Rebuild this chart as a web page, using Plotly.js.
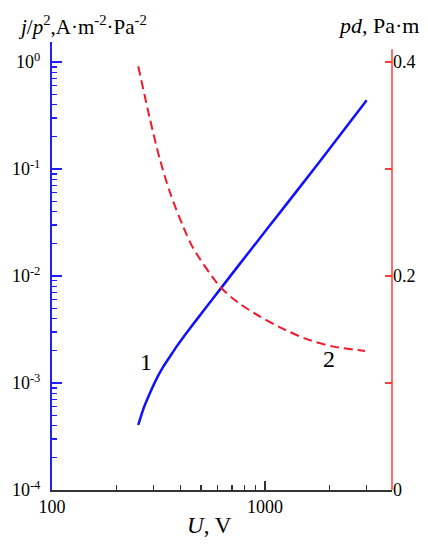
<!DOCTYPE html>
<html>
<head>
<meta charset="utf-8">
<script src="https://cdn.plot.ly/plotly-3.0.1.min.js"></script>
<style>html,body{margin:0;padding:0;background:#fff;}#chart{width:428px;height:550px;}</style>
</head>
<body>
<div id="chart"></div>
<script>
// Curve 1: current density j/p^2 vs voltage U (left log axis)
var u1 = [254, 270, 290, 310, 333, 360, 385, 420, 460, 513, 615, 750, 1000, 1500, 2000, 3000];
var j1 = [4.05e-4, 5.9e-4, 8.3e-4, 1.1e-3, 1.42e-3, 1.8e-3, 2.2e-3, 2.8e-3, 3.55e-3, 4.7e-3, 7.5e-3, 1.25e-2, 2.6e-2, 7.3e-2, 0.153, 0.44];
// Curve 2: pd vs voltage U (right linear axis)
var u2 = [254, 288, 321, 358, 413, 460, 615, 750, 948, 1175, 1570, 2094, 2944];
var pd2 = [0.396, 0.347, 0.309, 0.278, 0.246, 0.226, 0.190, 0.175, 0.162, 0.152, 0.141, 0.134, 0.130];

var xMajor = [100, 1000];
var xMajorText = ['100', '1000'];
var xMinor = [200, 300, 400, 500, 600, 700, 800, 900, 2000, 3000];
var yMajor = [1e-4, 1e-3, 1e-2, 1e-1, 1];
var yMajorText = ['10<sup>-4</sup>', '10<sup>-3</sup>', '10<sup>-2</sup>', '10<sup>-1</sup>', '10<sup>0</sup>'];
var yMinor = [];
[1e-4, 1e-3, 1e-2, 1e-1].forEach(function (d) { for (var k = 2; k <= 9; k++) yMinor.push(+(d * k).toPrecision(3)); });
var y2Major = [0, 0.2, 0.4];
var y2Text = ['0', '0.2', '0.4'];
var y2Minor = [0.1, 0.3];

var serif = 'Liberation Serif';

var traces = [
  {x: u1, y: j1, type: 'scatter', mode: 'lines', line: {color: '#1010ff', width: 2.5, shape: 'spline', smoothing: 0.8}, yaxis: 'y', hoverinfo: 'none'},
  {x: u2, y: pd2, type: 'scatter', mode: 'lines', line: {color: '#f0182a', width: 2, dash: '9px,5px', shape: 'spline', smoothing: 0.8}, yaxis: 'y2', hoverinfo: 'none'}
];

var layout = {
  width: 428, height: 550,
  margin: {l: 52, r: 36, t: 42, b: 60},
  paper_bgcolor: '#fff', plot_bgcolor: '#fff',
  showlegend: false,
  font: {family: serif, size: 18, color: '#000'},
  xaxis: {
    type: 'log', range: [2, 3.596],
    showgrid: false, zeroline: false,
    showline: true, linecolor: '#333', linewidth: 1.5,
    tickmode: 'array', tickvals: xMajor, ticktext: xMajorText,
    ticks: 'inside', ticklen: 9, tickcolor: '#333', tickwidth: 1.5,
    minor: {tickmode: 'array', tickvals: xMinor, ticks: 'inside', ticklen: 5, tickcolor: '#333', tickwidth: 1.2},
    tickfont: {family: serif, size: 18, color: '#000'},
    ticklabelstandoff: 0
  },
  yaxis: {
    type: 'log', range: [-4, 0.187],
    showgrid: false, zeroline: false,
    showline: true, linecolor: '#2020ff', linewidth: 2,
    tickmode: 'array', tickvals: yMajor, ticktext: yMajorText,
    ticks: 'inside', ticklen: 10, tickcolor: '#2020ff', tickwidth: 1.5,
    minor: {tickmode: 'array', tickvals: yMinor, ticks: 'inside', ticklen: 5, tickcolor: '#2020ff', tickwidth: 1.2},
    tickfont: {family: serif, size: 18, color: '#000'},
    ticklabelstandoff: 6
  },
  yaxis2: {
    overlaying: 'y', side: 'right', range: [0, 0.4187],
    showgrid: false, zeroline: false, showline: false,
    tickmode: 'array', tickvals: y2Major, ticktext: y2Text,
    ticks: 'inside', ticklen: 7, tickcolor: '#ff3b3b', tickwidth: 1.5,
    minor: {tickmode: 'array', tickvals: y2Minor, ticks: 'inside', ticklen: 7, tickcolor: '#ff3b3b', tickwidth: 1.5},
    tickfont: {family: serif, size: 18, color: '#000'}
  },
  shapes: [
    {type: 'line', xref: 'paper', yref: 'y2', x0: 1, x1: 1, y0: 0, y1: 0.412, line: {color: '#ff3b3b', width: 1.5}}
  ],
  annotations: [
    {text: '<i>j</i>/<i>p</i><sup>2</sup>,A·m<sup>-2</sup>·Pa<sup>-2</sup>', xref: 'paper', yref: 'paper', x: -0.106, y: 1.036, xanchor: 'left', yanchor: 'middle', showarrow: false, font: {family: serif, size: 21, color: '#000'}},
    {text: '<i>pd</i>, Pa·m', xref: 'paper', yref: 'paper', x: 1.085, y: 1.036, xanchor: 'right', yanchor: 'middle', showarrow: false, font: {family: serif, size: 22, color: '#000'}},
    {text: '<i>U</i>, V', xref: 'paper', yref: 'paper', x: 0.463, y: -0.08, xanchor: 'center', yanchor: 'middle', showarrow: false, font: {family: serif, size: 23, color: '#000'}},
    {text: '1', xref: 'x', yref: 'y', x: 2.439, y: -2.799, xanchor: 'center', yanchor: 'middle', showarrow: false, font: {family: serif, size: 24, color: '#000'}},
    {text: '2', xref: 'x', yref: 'y2', x: 3.298, y: 0.122, xanchor: 'center', yanchor: 'middle', showarrow: false, font: {family: serif, size: 24, color: '#000'}}
  ]
};

Plotly.newPlot('chart', traces, layout, {staticPlot: true, displayModeBar: false});
</script>
</body>
</html>
